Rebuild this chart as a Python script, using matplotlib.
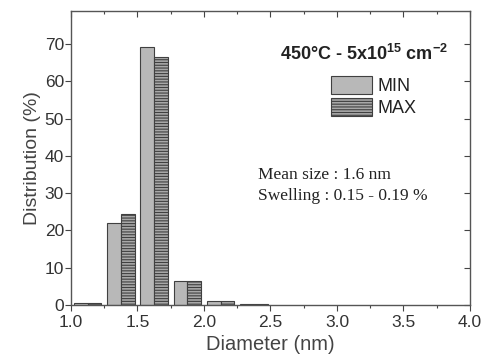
import matplotlib
matplotlib.use("Agg")
import matplotlib.pyplot as plt
import numpy as np
from matplotlib.ticker import MultipleLocator

plt.rcParams['font.family'] = ['Liberation Sans', 'DejaVu Sans']
plt.rcParams['mathtext.fontset'] = 'custom'
plt.rcParams['mathtext.rm'] = 'Liberation Sans'
plt.rcParams['mathtext.bf'] = 'Liberation Sans:bold'
plt.rcParams['hatch.color'] = '#505050'
plt.rcParams['hatch.linewidth'] = 0.8

bin_centers = [1.125, 1.375, 1.625, 1.875, 2.125, 2.375]
min_vals = [0.6, 21.9, 69.2, 6.5, 1.2, 0.15]
max_vals = [0.6, 24.5, 66.6, 6.4, 1.2, 0.15]
series_labels = ["MIN", "MAX"]
xticks = [1.0, 1.5, 2.0, 2.5, 3.0, 3.5, 4.0]

fig = plt.figure(figsize=(4.85, 3.55), dpi=100)
ax = fig.add_axes([0.1464, 0.1408, 0.8226, 0.8296])

w = 0.104
x = np.array(bin_centers)
ax.bar(x - w / 2, min_vals, width=w, facecolor='#b8b8b8', edgecolor='#404040', linewidth=0.8, label=series_labels[0])
ax.bar(x + w / 2, max_vals, width=w, facecolor='#a8a8a8', edgecolor='#404040', linewidth=0.8, hatch='------', label=series_labels[1])

ax.set_xlim(1.0, 4.0)
ax.set_ylim(0, 79)
ax.set_xticks(xticks)
ax.set_xticklabels([f"{v:.1f}" for v in xticks])
ax.xaxis.set_minor_locator(MultipleLocator(0.25))
ax.yaxis.set_major_locator(MultipleLocator(10))

tc = '#444444'
ax.tick_params(axis='both', which='major', direction='out', length=4, width=0.8, labelsize=12.5, colors=tc, labelcolor='#333333', pad=1)
ax.tick_params(axis='x', which='major', pad=3.5)
ax.tick_params(axis='both', which='minor', direction='out', length=2.5, width=0.8, colors=tc)
ax.tick_params(axis='y', which='minor', left=False)

secx = ax.secondary_xaxis('top')
secx.set_xticks(xticks)
secx.xaxis.set_minor_locator(MultipleLocator(0.25))
secx.tick_params(which='major', direction='in', length=4, width=0.8, colors=tc, labeltop=False)
secx.tick_params(which='minor', direction='in', length=2.5, width=0.8, colors=tc)
secx.set_xticklabels([])
secy = ax.secondary_yaxis('right')
secy.yaxis.set_major_locator(MultipleLocator(10))
secy.tick_params(which='major', direction='in', length=4, width=0.8, colors=tc, labelright=False)
secy.set_yticklabels([])
for sa in (secx, secy):
    for s in sa.spines.values():
        s.set_visible(False)

for s in ax.spines.values():
    s.set_color('#555555')
    s.set_linewidth(1.0)

ax.set_xlabel("Diameter (nm)", fontsize=14.5, color='#444444', labelpad=3.5)
ax.set_ylabel("Distribution (%)", fontsize=14, color='#444444', labelpad=3)

ax.text(0.945, 0.852, r"450°C - 5x10$\mathbf{^{15}}$ cm$\mathbf{^{-2}}$", transform=ax.transAxes,
        ha='right', va='center', fontsize=13, fontweight='bold', color='#222222')

leg = ax.legend(loc='upper left', bbox_to_anchor=(0.652, 0.778), frameon=False,
                handlelength=2.28, handleheight=1.2, labelspacing=0.15, handletextpad=0.28,
                borderpad=0.0, borderaxespad=0.0, prop={'family': 'Liberation Sans', 'size': 13})
for t in leg.get_texts():
    t.set_color('#222222')

ax.text(0.468, 0.405, "Mean size : 1.6 nm\nSwelling : 0.15 - 0.19 %", transform=ax.transAxes,
        ha='left', va='center', fontsize=12.5, family='Liberation Serif', color='#222222', linespacing=1.45)

fig.savefig("out.png", dpi=100)
